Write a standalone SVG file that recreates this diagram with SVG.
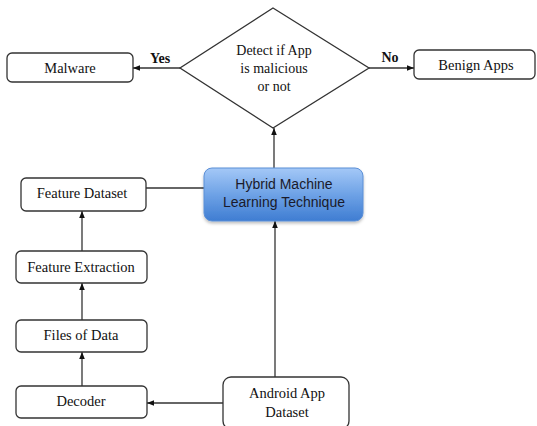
<svg xmlns="http://www.w3.org/2000/svg" width="537" height="426" viewBox="0 0 537 426">
<defs>
<linearGradient id="blue" x1="0" y1="0" x2="0" y2="1">
<stop offset="0" stop-color="#a4c8f7"/>
<stop offset="0.5" stop-color="#6ea2e6"/>
<stop offset="1" stop-color="#3f7dd2"/>
</linearGradient>
<filter id="sh" x="-10%" y="-10%" width="120%" height="130%">
<feDropShadow dx="0" dy="2" stdDeviation="1.5" flood-color="#000" flood-opacity="0.25"/>
</filter>
<marker id="ah" viewBox="0 0 10 10" refX="10" refY="5" markerWidth="7" markerHeight="7" markerUnits="userSpaceOnUse" orient="auto">
<path d="M0,1 L10,5 L0,9 z" fill="#111"/>
</marker>
</defs>
<style>
.box{fill:#fff;stroke:#333;stroke-width:1.3}
.t{font-family:"Liberation Serif",serif;font-size:14.5px;fill:#111;text-anchor:middle}
.d{font-family:"Liberation Serif",serif;font-size:14px;fill:#111;text-anchor:middle}
.b{font-family:"Liberation Serif",serif;font-size:14px;font-weight:bold;fill:#111;text-anchor:middle}
.s{font-family:"Liberation Sans",Arial,sans-serif;font-size:14px;fill:#1a1a2a;text-anchor:middle}
.ln{stroke:#333;stroke-width:1.3;fill:none}
</style>
<rect width="537" height="426" fill="#fff"/>
<g id="connectors">
<line class="ln" x1="180" y1="68" x2="133" y2="68" marker-end="url(#ah)"/>
<line class="ln" x1="369" y1="68" x2="414" y2="68" marker-end="url(#ah)"/>
<line class="ln" x1="274" y1="168" x2="274" y2="128" marker-end="url(#ah)"/>
<line class="ln" x1="146" y1="188" x2="204" y2="188"/>
<line class="ln" x1="275" y1="377" x2="275" y2="221" marker-end="url(#ah)"/>
<line class="ln" x1="82" y1="251" x2="82" y2="211" marker-end="url(#ah)"/>
<line class="ln" x1="82" y1="320" x2="82" y2="283" marker-end="url(#ah)"/>
<line class="ln" x1="82" y1="386" x2="82" y2="352" marker-end="url(#ah)"/>
<line class="ln" x1="223" y1="403" x2="147" y2="403" marker-end="url(#ah)"/>
<text class="b" x="160" y="63">Yes</text>
<text class="b" x="390" y="62">No</text>
</g>
<g id="decision">
<polygon class="box" points="273,8 369,68 273,128 180,68"/>
<text class="d" x="274" y="55">Detect if App</text>
<text class="d" x="274" y="73">is malicious</text>
<text class="d" x="274" y="91">or not</text>
</g>
<g id="malware">
<rect class="box" x="7" y="53" width="126" height="29" rx="5"/>
<text class="t" x="70" y="73">Malware</text>
</g>
<g id="benign">
<rect class="box" x="414" y="50" width="121" height="29" rx="5"/>
<text class="t" x="476" y="70">Benign Apps</text>
</g>
<g id="hybrid">
<rect x="204" y="168" width="159" height="53" rx="8" fill="url(#blue)" stroke="#5b8fd6" stroke-width="1" filter="url(#sh)"/>
<text class="s" x="284" y="189">Hybrid Machine</text>
<text class="s" x="284" y="207">Learning Technique</text>
</g>
<g id="feature-dataset">
<rect class="box" x="21" y="178" width="125" height="33" rx="5"/>
<text class="t" x="82" y="198">Feature Dataset</text>
</g>
<g id="feature-extraction">
<rect class="box" x="16" y="251" width="131" height="32" rx="5"/>
<text class="t" x="81" y="272">Feature Extraction</text>
</g>
<g id="files-of-data">
<rect class="box" x="16" y="320" width="131" height="32" rx="5"/>
<text class="t" x="81" y="340">Files of Data</text>
</g>
<g id="decoder">
<rect class="box" x="16" y="386" width="131" height="32" rx="5"/>
<text class="t" x="81" y="406">Decoder</text>
</g>
<g id="android">
<rect class="box" x="223" y="377" width="126" height="52" rx="8"/>
<text class="t" x="287" y="398">Android App</text>
<text class="t" x="287" y="417">Dataset</text>
</g>
</svg>
